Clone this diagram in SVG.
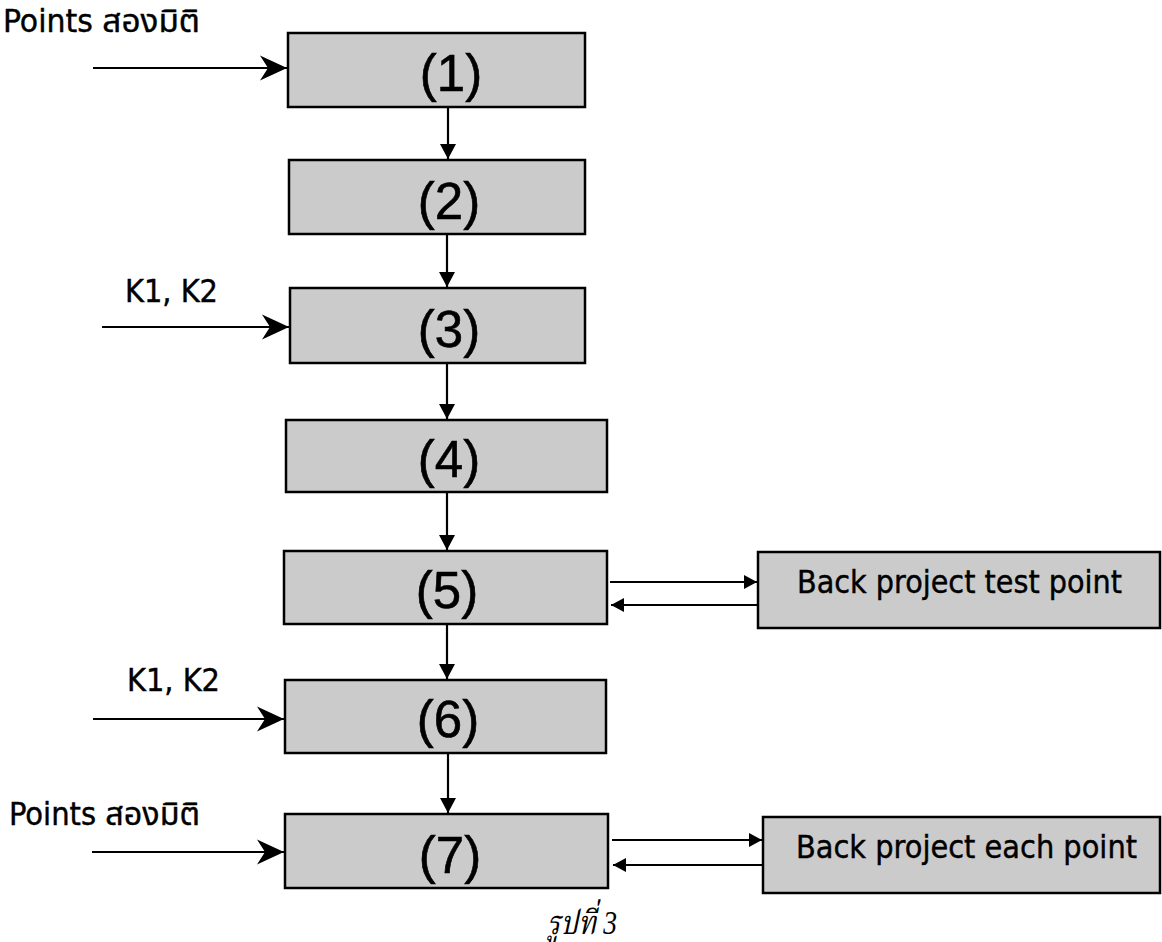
<svg xmlns="http://www.w3.org/2000/svg" width="1162" height="942" viewBox="0 0 1162 942">
<style>
.box{fill:#cbcbcb;stroke:#000;stroke-width:2.5}
.num{font-family:"Liberation Sans",Arial,sans-serif;font-size:51px;fill:#000;stroke:#000;stroke-width:0.6;text-anchor:middle}
.lbl{font-family:"DejaVu Sans Condensed","DejaVu Sans","Noto Sans Thai","Noto Sans",sans-serif;font-stretch:condensed;font-size:32px;fill:#000;stroke:#000;stroke-width:0.4}
.cap{font-family:"Liberation Serif","Noto Serif Thai","Noto Sans Thai",serif;font-style:italic;font-size:33px;fill:#000}
.ln{stroke:#000;stroke-width:2.2;fill:none}
</style>
<defs>
<marker id="big" viewBox="-28 -13 29 26" refX="0" refY="0" markerWidth="29" markerHeight="26" markerUnits="userSpaceOnUse" orient="auto">
<path d="M0,0 L-27,-12.5 L-19,0 L-27,12.5 Z" fill="#000"/>
</marker>
<marker id="dn" viewBox="-16 -9 17 18" refX="0" refY="0" markerWidth="17" markerHeight="18" markerUnits="userSpaceOnUse" orient="auto">
<path d="M0,0 L-15,-8 L-15,8 Z" fill="#000"/>
</marker>
<marker id="sm" viewBox="-14 -8 15 16" refX="0" refY="0" markerWidth="15" markerHeight="16" markerUnits="userSpaceOnUse" orient="auto">
<path d="M0,0 L-13,-7 L-13,7 Z" fill="#000"/>
</marker>
</defs>
<rect width="1162" height="942" fill="#fff"/>

<g id="connectors">
<line class="ln" x1="93" y1="68" x2="287" y2="68" marker-end="url(#big)"/>
<line class="ln" x1="102" y1="327" x2="289" y2="327" marker-end="url(#big)"/>
<line class="ln" x1="93" y1="719" x2="284" y2="719" marker-end="url(#big)"/>
<line class="ln" x1="92" y1="852" x2="284" y2="852" marker-end="url(#big)"/>
<line class="ln" x1="448" y1="108" x2="448" y2="159" marker-end="url(#dn)"/>
<line class="ln" x1="447" y1="235" x2="447" y2="287" marker-end="url(#dn)"/>
<line class="ln" x1="447" y1="364" x2="447" y2="419" marker-end="url(#dn)"/>
<line class="ln" x1="447" y1="493" x2="447" y2="550" marker-end="url(#dn)"/>
<line class="ln" x1="447" y1="625" x2="447" y2="679" marker-end="url(#dn)"/>
<line class="ln" x1="448" y1="754" x2="448" y2="813" marker-end="url(#dn)"/>
<line class="ln" x1="610" y1="582" x2="757" y2="582" marker-end="url(#sm)"/>
<line class="ln" x1="757" y1="605" x2="611" y2="605" marker-end="url(#sm)"/>
<line class="ln" x1="612" y1="840" x2="762" y2="840" marker-end="url(#sm)"/>
<line class="ln" x1="762" y1="865" x2="613" y2="865" marker-end="url(#sm)"/>
</g>

<g id="label-points-1"><text class="lbl" x="3" y="32" textLength="197" lengthAdjust="spacingAndGlyphs">Points สองมิติ</text></g>
<g id="label-k-1"><text class="lbl" x="125" y="302" textLength="93" lengthAdjust="spacingAndGlyphs">K1, K2</text></g>
<g id="label-k-2"><text class="lbl" x="127" y="691" textLength="93" lengthAdjust="spacingAndGlyphs">K1, K2</text></g>
<g id="label-points-2"><text class="lbl" x="9" y="825" textLength="191" lengthAdjust="spacingAndGlyphs">Points สองมิติ</text></g>

<g id="node1"><rect class="box" x="288" y="33" width="297" height="74"/><text class="num" x="451" y="91">(1)</text></g>
<g id="node2"><rect class="box" x="289" y="160" width="296" height="74"/><text class="num" x="449" y="219">(2)</text></g>
<g id="node3"><rect class="box" x="290" y="288" width="295" height="75"/><text class="num" x="449" y="347">(3)</text></g>
<g id="node4"><rect class="box" x="286" y="420" width="321" height="72"/><text class="num" x="449" y="477">(4)</text></g>
<g id="node5"><rect class="box" x="284" y="551" width="323" height="73"/><text class="num" x="447" y="608">(5)</text></g>
<g id="node6"><rect class="box" x="285" y="680" width="321" height="73"/><text class="num" x="448" y="737">(6)</text></g>
<g id="node7"><rect class="box" x="285" y="814" width="323" height="74"/><text class="num" x="450" y="873">(7)</text></g>

<g id="node-back-test"><rect class="box" x="758" y="552" width="402" height="76"/><text class="lbl" x="797" y="593" textLength="325" lengthAdjust="spacingAndGlyphs">Back project test point</text></g>
<g id="node-back-each"><rect class="box" x="763" y="817" width="397" height="76"/><text class="lbl" x="796" y="858" textLength="341" lengthAdjust="spacingAndGlyphs">Back project each point</text></g>

<g id="caption"><text class="cap" x="547" y="934" textLength="70" lengthAdjust="spacingAndGlyphs">รูปที่ 3</text></g>
</svg>
